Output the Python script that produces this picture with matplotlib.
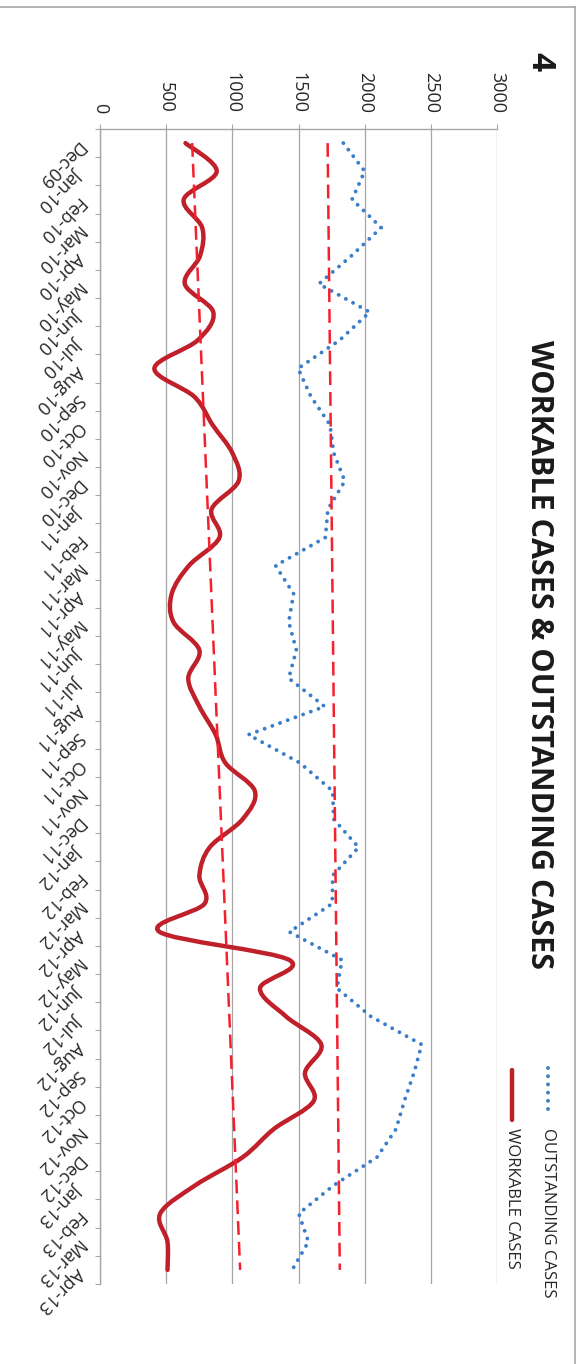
import numpy as np
import matplotlib
matplotlib.use("Agg")
from matplotlib import pyplot as plt
from matplotlib.path import Path
from matplotlib.patches import PathPatch
from matplotlib.lines import Line2D

plt.rcParams['font.family'] = ['Open Sans', 'DejaVu Sans']

#--------------------------------------------
# Monthly figures, Dec-09 .. Apr-13
months = ['Dec-09',
          'Jan-10', 'Feb-10', 'Mar-10', 'Apr-10', 'May-10', 'Jun-10',
          'Jul-10', 'Aug-10', 'Sep-10', 'Oct-10', 'Nov-10', 'Dec-10',
          'Jan-11', 'Feb-11', 'Mar-11', 'Apr-11', 'May-11', 'Jun-11',
          'Jul-11', 'Aug-11', 'Sep-11', 'Oct-11', 'Nov-11', 'Dec-11',
          'Jan-12', 'Feb-12', 'Mar-12', 'Apr-12', 'May-12', 'Jun-12',
          'Jul-12', 'Aug-12', 'Sep-12', 'Oct-12', 'Nov-12', 'Dec-12',
          'Jan-13', 'Feb-13', 'Mar-13', 'Apr-13']
outstanding = [1839, 2000, 1905, 2125, 1900, 1654, 2038, 1810, 1497, 1594,
               1738, 1766, 1850, 1722, 1703, 1327, 1463, 1426, 1484, 1426,
               1698, 1122, 1510, 1758, 1766, 1954, 1758, 1755, 1431, 1829,
               1790, 2046, 2431, 2373, 2300, 2237, 2093, 1765, 1502, 1575,
               1452]
workable = [646, 882, 633, 772, 756, 641, 856, 738, 411, 712,
            850, 1000, 1047, 843, 903, 672, 542, 555, 751, 667,
            751, 874, 947, 1170, 1078, 829, 751, 790, 450, 1431,
            1209, 1405, 1672, 1549, 1615, 1313, 1078, 719, 455, 510,
            510]
value_ticks = [0, 500, 1000, 1500, 2000, 2500, 3000]

grey = '#a6a6a6'
c_work = '#c0202a'
c_trend = '#f5202e'
c_out = '#3a7dc9'


def smooth_path(xs, ys):
    # Catmull-Rom segments written as cubic Bezier pieces
    pts = np.column_stack([xs, ys]).astype(float)
    ext = np.vstack([pts[0], pts, pts[-1]])
    verts = [pts[0]]
    codes = [Path.MOVETO]
    for i in range(len(pts) - 1):
        p0, p1, p2, p3 = ext[i], ext[i + 1], ext[i + 2], ext[i + 3]
        verts += [p1 + (p2 - p0) / 6.0, p2 - (p3 - p1) / 6.0, p2]
        codes += [Path.CURVE4] * 3
    return Path(verts, codes)


if __name__ == "__main__":
    idx = np.arange(len(months))

    fig = plt.figure(figsize=(5.83, 13.64), dpi=100)
    ax = fig.add_axes([100 / 583, 1 - 1284 / 1364, 397 / 583, 1155 / 1364])
    ax.set_xlim(0, 3000)
    ax.set_ylim(len(months) - 0.5, -0.5)

    # value axis runs along the top, months down the left side
    for side in ['right', 'bottom']:
        ax.spines[side].set_visible(False)
    for side in ['left', 'top']:
        ax.spines[side].set_color(grey)
        ax.spines[side].set_linewidth(1.0)
    ax.xaxis.tick_top()
    ax.set_xticks(value_ticks)
    ax.set_xticklabels([str(v) for v in value_ticks], rotation=-90,
                       fontsize=13, color='#262626')
    ax.tick_params(axis='x', which='major', length=3.6, width=0.8,
                   color=grey, pad=8)
    ax.xaxis.grid(True, color=grey, lw=0.9)
    ax.set_axisbelow(True)

    ax.set_yticks(np.arange(-0.5, len(months), 1.0))
    ax.set_yticklabels([])
    ax.set_yticks(idx, minor=True)
    ax.set_yticklabels(months, minor=True, fontsize=13, color='#262626')
    ax.tick_params(axis='y', which='major', length=3.6, width=0.8, color=grey)
    ax.tick_params(axis='y', which='minor', length=0, pad=14)
    for lab in ax.get_yticklabels(minor=True):
        lab.set_rotation(-135)
        lab.set_rotation_mode('anchor')
        lab.set_ha('left')
        lab.set_va('center')

    # outstanding cases, dotted
    ax.plot(outstanding, idx, color=c_out, lw=2.8,
            linestyle=(0, (0.01, 2.1)), dash_capstyle='round')

    # workable cases, smoothed
    ax.add_patch(PathPatch(smooth_path(workable, idx), fill=False,
                           edgecolor=c_work, lw=3.2, capstyle='round',
                           joinstyle='round'))

    # linear trend lines
    for series in [workable, outstanding]:
        k, b = np.polyfit(idx, series, 1)
        ax.plot(k * idx + b, idx, color=c_trend, lw=1.8,
                linestyle=(0, (5.5, 2.8)))

    # title and chart number
    fig.text(539 / 583, 1 - 655 / 1364, 'WORKABLE CASES & OUTSTANDING CASES',
             rotation=-90, ha='center', va='center', fontsize=22,
             weight='bold', color='#1a1a1a')
    fig.text(540 / 583, 1 - 62 / 1364, '4', rotation=-90, ha='center',
             va='center', fontsize=24, weight='bold', color='#1a1a1a')

    # legend
    fig.add_artist(Line2D([548 / 583, 548 / 583],
                          [1 - 1068 / 1364, 1 - 1115 / 1364],
                          color=c_out, lw=2.8, linestyle=(0, (0.01, 2.1)),
                          dash_capstyle='round'))
    fig.add_artist(Line2D([512 / 583, 512 / 583],
                          [1 - 1070 / 1364, 1 - 1120 / 1364],
                          color=c_work, lw=3.2, solid_capstyle='round'))
    fig.text(548 / 583, 1 - 1128 / 1364, 'OUTSTANDING CASES', rotation=-90,
             ha='center', va='top', fontsize=12, color='#262626')
    fig.text(512 / 583, 1 - 1128 / 1364, 'WORKABLE CASES', rotation=-90,
             ha='center', va='top', fontsize=12, color='#262626')

    # chart frame (top and right edges)
    fig.add_artist(Line2D([0, 575 / 583], [1 - 7 / 1364, 1 - 7 / 1364],
                          color=grey, lw=1.2))
    fig.add_artist(Line2D([575 / 583, 575 / 583], [1 - 7 / 1364, 0],
                          color=grey, lw=1.2))

    plt.savefig("out.png", dpi=100)
